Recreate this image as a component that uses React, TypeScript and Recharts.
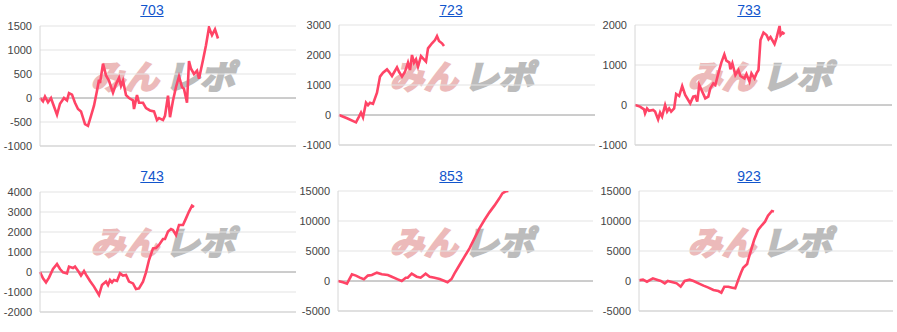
import React from "react";
import {
  LineChart,
  Line,
  XAxis,
  YAxis,
  CartesianGrid,
  ReferenceLine,
} from "recharts";

// game counts (x) and running balance (y) for each machine
const titles = ["703", "723", "733", "743", "853", "923"];

const games703 = [0,3,5,8,11,13,17,20,24,27,29,32,35,38,41,45,48,51,54,57,59,60,63,66,69,73,76,79,81,83,86,89,93,94,97,99,103,106,110,114,117,119,123,125,128,130,133,136,139,142,144,147,149,151,154,157,159,163,166,169,172,175,178];
const diff703 = [0,-70,30,-90,0,-120,-350,-120,0,-50,100,70,-100,-230,-280,-545,-580,-370,-160,150,380,310,715,470,360,110,290,420,250,360,60,0,-50,-230,60,-100,-100,-210,-260,-280,-460,-420,-460,-370,50,-400,-50,230,450,230,190,-100,770,610,500,570,400,790,1100,1470,1310,1430,1240];

const games723 = [0,8,17,20,22,24,27,29,31,34,38,41,44,48,50,53,58,60,63,66,69,71,73,75,77,79,82,84,87,89,93,96,98,100,103,105];
const diff723 = [0,-110,-245,-55,80,-80,410,330,410,370,745,1280,1410,1520,1440,1300,1590,1440,1280,1440,1745,1500,2000,1745,1855,1610,1965,1890,1780,2220,2390,2500,2630,2470,2390,2300];

const games733 = [0,5,9,10,12,14,18,20,23,25,27,30,32,34,36,39,41,44,47,50,53,55,58,60,62,64,67,70,73,75,78,80,83,86,89,91,94,95,97,100,103,105,109,111,114,116,119,121,123,125,128,131,133,135,139,141,144,145,147,149];
const diff733 = [0,-40,-110,-210,-85,-145,-125,-165,-360,-190,-290,0,-165,-85,-165,-85,275,225,475,250,125,40,210,225,85,500,335,165,210,415,540,500,790,1060,1265,1110,1060,890,1040,750,875,725,665,775,585,790,665,790,875,1625,1810,1750,1640,1700,1525,1680,1975,1750,1810,1775];

const games743 = [0,3,6,9,13,17,20,23,27,29,33,35,39,41,44,46,50,54,59,62,66,68,70,72,74,77,80,83,86,89,93,96,99,103,106,109,113,116,119,123,125,128,131,133,136,139,143,146,149,152,154];
const diff743 = [0,-320,-520,-280,150,400,150,-15,-70,270,200,270,-15,-180,50,-130,-450,-730,-1150,-650,-480,-650,-400,-520,-400,-450,-70,-180,-150,-480,-570,-850,-820,-480,-15,600,1180,1200,1350,1650,1650,2020,2150,2100,1850,2350,2350,2680,3020,3320,3250];

const games853 = [0,5,9,14,18,22,26,30,34,39,44,50,54,60,64,68,70,74,79,83,88,92,97,102,107,110,114,117,122,127,132,137,142,147,152,157,162,165,168,171];
const diff853 = [0,-220,-450,1110,900,555,280,900,1000,1390,1110,1000,720,280,0,550,550,1220,720,550,1220,720,555,330,0,-220,330,1280,2670,4060,5440,7110,8780,10170,11440,12560,13780,14610,14900,15000];

const games923 = [0,4,8,14,18,22,26,29,34,38,42,46,51,55,60,65,70,75,80,83,86,90,94,97,100,103,105,109,110,113,116,120,124,127,130,134,136];
const diff923 = [110,220,-110,440,220,0,-390,0,-220,-390,-950,0,220,0,-390,-780,-1110,-1500,-1670,-1940,-950,-950,-1110,-1220,170,1440,2220,2830,3500,5170,6830,8500,9330,9890,10890,11670,11560];

const ticks703 = [-1000, -500, 0, 500, 1000, 1500];
const ticks723 = [-1000, 0, 1000, 2000, 3000];
const ticks733 = [-1000, 0, 1000, 2000];
const ticks743 = [-2000, -1000, 0, 1000, 2000, 3000, 4000];
const ticks853 = [-5000, 0, 5000, 10000, 15000];
const ticks923 = [-5000, 0, 5000, 10000, 15000];

const X_MAX = 256;
const FONT = "'Liberation Sans', Arial, sans-serif";
const JP = "'Noto Sans CJK JP', sans-serif";

type PanelProps = {
  title: string;
  games: number[];
  values: number[];
  ticks: number[];
  left: number;
  top: number;
  axisW: number;
  plotTop: number;
  plotW: number;
};

// the "みんレポ" logo that sits behind every chart
const Watermark = () => (
  <svg
    width={299}
    height={160}
    style={{ position: "absolute", left: 0, top: 0 }}
  >
    <g transform="translate(20,0) skewX(-14)">
      <text
        x={93}
        y={89}
        fontSize={33}
        fontWeight="bold"
        fontFamily={JP}
        fill="#ecbaba"
        stroke="#ecbaba"
        strokeWidth={2.2}
        textLength={68}
        lengthAdjust="spacingAndGlyphs"
      >
        みん
      </text>
      <text
        x={167}
        y={89}
        fontSize={33}
        fontWeight="bold"
        fontFamily={JP}
        fill="#bcbcbc"
        stroke="#bcbcbc"
        strokeWidth={2.2}
        textLength={70}
        lengthAdjust="spacingAndGlyphs"
      >
        レポ
      </text>
    </g>
  </svg>
);

const Panel = ({ title, games, values, ticks, left, top, axisW, plotTop, plotW }: PanelProps) => {
  const data = games.map((n, i) => ({ n, v: values[i] }));
  const min = ticks[0];
  const max = ticks[ticks.length - 1];
  return (
    <div style={{ position: "absolute", left, top, width: 299, height: 160 }}>
      <div
        style={{
          position: "absolute",
          left: 0,
          top: 2,
          width: 304,
          textAlign: "center",
          fontFamily: FONT,
          fontSize: 14,
        }}
      >
        <a href="#" style={{ color: "#1155cc" }}>
          {title}
        </a>
      </div>
      <Watermark />
      <div style={{ position: "absolute", left: 0, top: 0 }}>
        <LineChart
          width={299}
          height={160}
          data={data}
          margin={{ top: plotTop, right: 299 - axisW - plotW, bottom: 160 - plotTop - 120, left: 0 }}
        >
          <CartesianGrid vertical={false} stroke="#e3e3e3" strokeWidth={1} />
          <XAxis dataKey="n" type="number" domain={[0, X_MAX]} hide />
          <YAxis
            type="number"
            domain={[min, max]}
            ticks={ticks}
            interval={0}
            width={axisW}
            tickLine={false}
            axisLine={{ stroke: "#d6d6d6" }}
            tick={{ fill: "#444", fontSize: 11, fontFamily: FONT }}
            allowDataOverflow
          />
          <ReferenceLine y={min} stroke="#cfcfcf" />
          <ReferenceLine y={0} stroke="#a8a8a8" />
          <Line
            type="linear"
            dataKey="v"
            stroke="#ff4466"
            strokeWidth={2.6}
            dot={false}
            isAnimationActive={false}
          />
        </LineChart>
      </div>
    </div>
  );
};

export default function App() {
  return (
    <div style={{ position: "absolute", left: 0, top: 0, width: 897, height: 332, background: "#fff" }}>
      <Panel title={titles[0]} games={games703} values={diff703} ticks={ticks703} left={0} top={0} axisW={40} plotTop={26} plotW={256} />
      <Panel title={titles[1]} games={games723} values={diff723} ticks={ticks723} left={299} top={0} axisW={40} plotTop={25} plotW={256} />
      <Panel title={titles[2]} games={games733} values={diff733} ticks={ticks733} left={597} top={0} axisW={38} plotTop={25} plotW={257} />
      <Panel title={titles[3]} games={games743} values={diff743} ticks={ticks743} left={0} top={166} axisW={40} plotTop={26} plotW={256} />
      <Panel title={titles[4]} games={games853} values={diff853} ticks={ticks853} left={299} top={166} axisW={39} plotTop={25} plotW={255} />
      <Panel title={titles[5]} games={games923} values={diff923} ticks={ticks923} left={597} top={166} axisW={42} plotTop={25} plotW={254} />
    </div>
  );
}
